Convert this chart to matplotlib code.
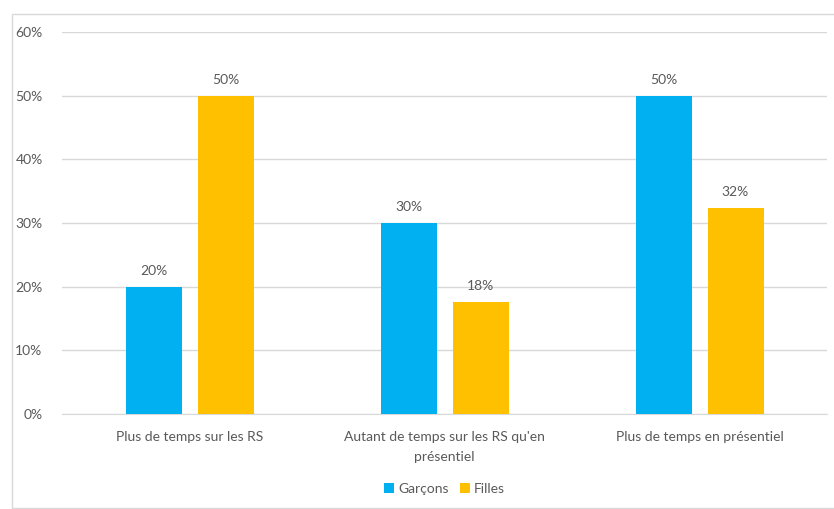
import matplotlib.pyplot as plt
from matplotlib.patches import Rectangle
import numpy as np

categories = ["Plus de temps sur les RS", "Autant de temps sur les RS qu'en\nprésentiel", "Plus de temps en présentiel"]
garcons = [20, 30, 50]
filles = [50, 17.6, 32.4]
yticks = [0, 10, 20, 30, 40, 50, 60]

plt.rcParams['font.family'] = ['Lato', 'DejaVu Sans']
txt = '#595959'
blue = '#00B0F0'
gold = '#FFC000'
fs = 10

fig = plt.figure(figsize=(8.34, 5.09), dpi=100)
ax = fig.add_axes([62 / 834, 1 - 414 / 509, 765 / 834, 382 / 509])

# chart frame
fig.patches.append(Rectangle((12 / 834, 1 - 508 / 509), 1.0, (508 - 14) / 509,
                             transform=fig.transFigure, fill=False,
                             edgecolor='#d9d9d9', linewidth=1))

x = np.arange(len(categories))
w = 56 / 255
off = 36 / 255
b1 = ax.bar(x - off, garcons, w, color=blue, label='Garçons', zorder=3)
b2 = ax.bar(x + off, filles, w, color=gold, label='Filles', zorder=3)

for bars, vals in [(b1, garcons), (b2, filles)]:
    for r, v in zip(bars, vals):
        ax.text(r.get_x() + r.get_width() / 2, v + 1.5, '{:.0f}%'.format(v),
                ha='center', va='bottom', fontsize=fs, color=txt)

ax.set_xlim(-0.5, 2.5)
ax.set_ylim(0, 60)
ax.set_yticks(yticks)
ax.set_yticklabels(['{}%'.format(t) for t in yticks])
ax.set_xticks(x)
ax.set_xticklabels(categories, linespacing=1.8)
ax.tick_params(axis='both', length=0, labelsize=fs, labelcolor=txt)
ax.tick_params(axis='y', pad=14)
ax.tick_params(axis='x', pad=12)
ax.grid(axis='y', color='#d9d9d9', linewidth=1, zorder=0)
for s in ['top', 'right', 'left']:
    ax.spines[s].set_visible(False)
ax.spines['bottom'].set_color('#d9d9d9')

ax.legend(loc='center', bbox_to_anchor=(0.5, (414 - 489) / 382), ncol=2, frameon=False,
          fontsize=fs, labelcolor=txt, handlelength=0.7, handleheight=0.7,
          handletextpad=0.3, columnspacing=0.8)

plt.savefig('out.png', dpi=100)
